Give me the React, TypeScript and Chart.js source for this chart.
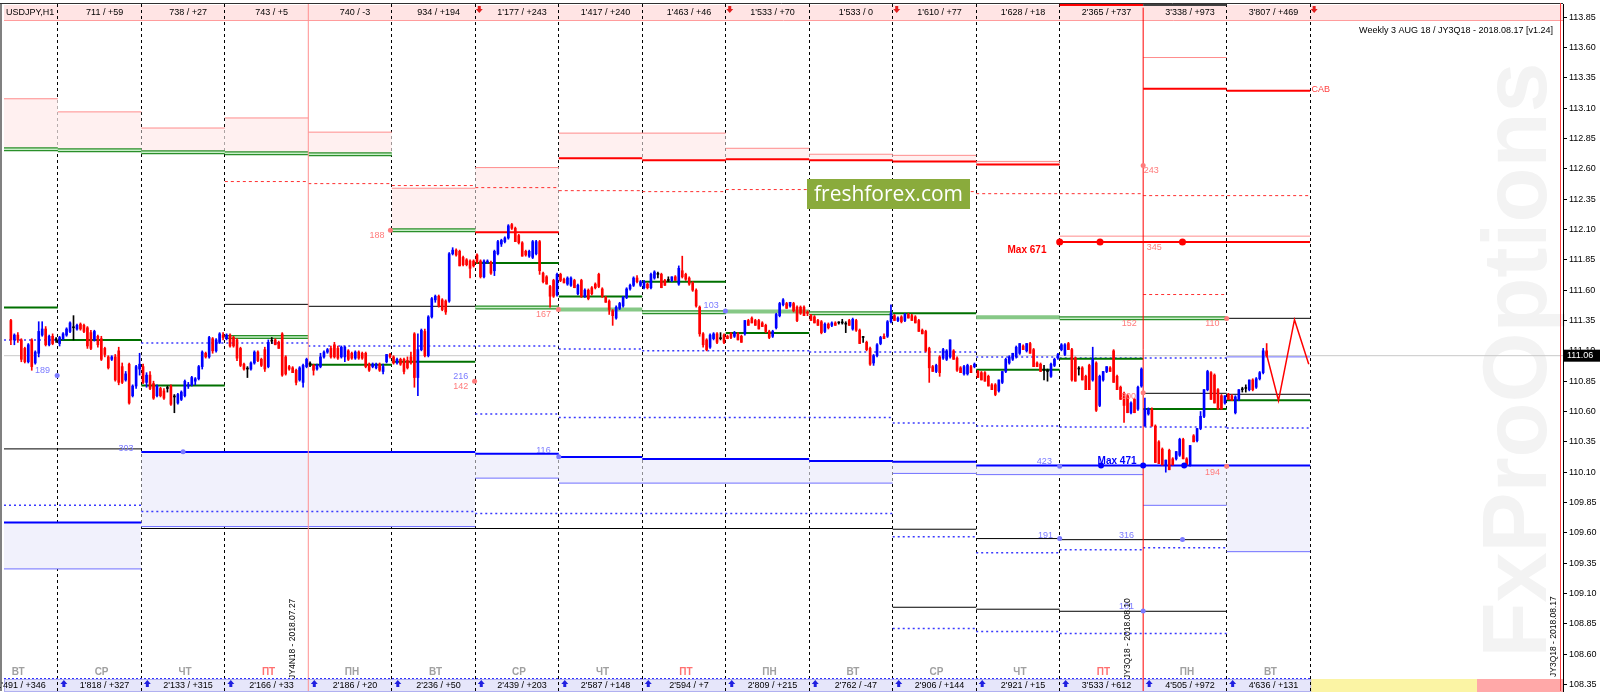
import React, { useEffect, useRef } from "react";
import { Chart, registerables } from "chart.js";

Chart.register(...registerables);

// ---------- axes ----------
const X_MIN = -15.48;
const X_MAX = 432.69;
const Y_MIN = 108.297;
const Y_MAX = 113.958;
const yTicks = [108.35, 108.6, 108.85, 109.1, 109.35, 109.6, 109.85, 110.1, 110.35, 110.6, 110.85, 111.1, 111.35, 111.6, 111.85, 112.1, 112.35, 112.6, 112.85, 113.1, 113.35, 113.6, 113.85];
const dayTicks = [0, 24, 48, 72, 96, 120, 144, 168, 192, 216, 240, 264, 288, 312, 336, 360];
const expiryLight = 72;
const expiryMain = 312;
const currentPrice = 111.06;

// ---------- strip texts (columns -1 .. 14) ----------
const dayNames = ["ВТ", "СР", "ЧТ", "ПТ", "ПН", "ВТ", "СР", "ЧТ", "ПТ", "ПН", "ВТ", "СР", "ЧТ", "ПТ", "ПН", "ВТ"];
const topStats = ["", "711 / +59", "738 / +27", "743 / +5", "740 / -3", "934 / +194", "1'177 / +243", "1'417 / +240", "1'463 / +46", "1'533 / +70", "1'533 / 0", "1'610 / +77", "1'628 / +18", "2'365 / +737", "3'338 / +973", "3'807 / +469"];
const bottomStats = ["1'491 / +346", "1'818 / +327", "2'133 / +315", "2'166 / +33", "2'186 / +20", "2'236 / +50", "2'439 / +203", "2'587 / +148", "2'594 / +7", "2'809 / +215", "2'762 / -47", "2'906 / +144", "2'921 / +15", "3'533 / +612", "4'505 / +972", "4'636 / +131"];
const redArrowCols = [5, 8, 10, 15];

// ---------- hourly candles [open, high, low, close] ----------
const dayM1 = [
  [111.35, 111.36, 111.15, 111.19], [111.19, 111.24, 111.15, 111.23], [111.23, 111.25, 111.17, 111.19], [111.19, 111.2, 111.01, 111.03],
  [111.12, 111.13, 111.0, 111.01], [111.01, 111.16, 111.0, 111.15], [111.19, 111.2, 110.94, 110.97], [111.0, 111.1, 110.99, 111.09],
  [111.08, 111.34, 111.05, 111.26], [111.23, 111.34, 111.22, 111.28], [111.28, 111.3, 111.14, 111.15], [111.15, 111.23, 111.14, 111.22],
  [111.22, 111.24, 111.15, 111.16], [111.19, 111.21, 111.17, 111.19],
];
const day00 = [
  [111.16, 111.22, 111.14, 111.21], [111.2, 111.25, 111.19, 111.24], [111.23, 111.29, 111.22, 111.28], [111.26, 111.34, 111.25, 111.33],
  [111.29, 111.39, 111.19, 111.29], [111.28, 111.32, 111.27, 111.31], [111.32, 111.33, 111.27, 111.28], [111.31, 111.32, 111.25, 111.26],
  [111.29, 111.3, 111.12, 111.14], [111.25, 111.27, 111.11, 111.12], [111.19, 111.27, 111.18, 111.26], [111.22, 111.23, 111.13, 111.15],
  [111.2, 111.22, 111.02, 111.03], [111.12, 111.13, 111.05, 111.07], [111.05, 111.06, 110.95, 110.96], [111.03, 111.06, 111.02, 111.05],
  [111.05, 111.07, 110.85, 110.86], [111.1, 111.13, 110.82, 110.84], [110.97, 111.0, 110.83, 110.84], [110.86, 110.93, 110.85, 110.91],
  [110.99, 111.0, 110.66, 110.67], [110.73, 110.82, 110.72, 110.81], [110.81, 110.98, 110.79, 110.97], [110.95, 111.08, 110.9, 110.99],
];
const day01 = [
  [110.97, 110.99, 110.83, 110.84], [110.84, 110.92, 110.8, 110.9], [110.9, 110.93, 110.78, 110.79], [110.83, 110.85, 110.7, 110.71],
  [110.73, 110.82, 110.72, 110.81], [110.79, 110.8, 110.72, 110.73], [110.77, 110.79, 110.7, 110.71], [110.79, 110.81, 110.76, 110.79],
  [110.81, 110.82, 110.65, 110.66], [110.72, 110.74, 110.59, 110.72], [110.67, 110.75, 110.66, 110.74], [110.7, 110.77, 110.69, 110.76],
  [110.73, 110.86, 110.72, 110.85], [110.81, 110.84, 110.79, 110.82], [110.82, 110.89, 110.81, 110.88], [110.85, 110.88, 110.82, 110.87],
  [110.87, 110.98, 110.86, 110.97], [110.97, 111.1, 110.95, 111.09], [111.08, 111.09, 111.04, 111.05], [111.05, 111.22, 111.04, 111.21],
  [111.2, 111.21, 111.08, 111.1], [111.1, 111.2, 111.09, 111.19], [111.17, 111.25, 111.16, 111.24], [111.23, 111.25, 111.19, 111.21],
];
const day02 = [
  [111.2, 111.24, 111.19, 111.23], [111.23, 111.24, 111.13, 111.14], [111.21, 111.22, 111.13, 111.14], [111.19, 111.2, 111.02, 111.04],
  [111.12, 111.13, 110.97, 110.98], [110.99, 111.0, 110.94, 110.95], [110.95, 110.97, 110.88, 110.95], [110.95, 111.01, 110.94, 111.0],
  [111.0, 111.1, 110.99, 111.09], [111.09, 111.1, 111.01, 111.02], [111.03, 111.04, 110.97, 110.98], [111.11, 111.13, 110.93, 110.95],
  [110.97, 111.19, 110.96, 111.17], [111.18, 111.21, 111.16, 111.18], [111.19, 111.2, 111.15, 111.15], [111.17, 111.18, 111.12, 111.12],
  [111.24, 111.25, 110.89, 110.9], [111.05, 111.06, 110.9, 110.91], [110.97, 110.98, 110.94, 110.95], [110.96, 110.97, 110.92, 110.92],
  [110.94, 110.95, 110.82, 110.84], [110.86, 110.97, 110.85, 110.96], [110.84, 110.99, 110.8, 110.98], [110.97, 111.04, 110.96, 111.03],
];
const day03 = [
  [110.99, 111.01, 110.97, 110.99], [110.98, 110.99, 110.9, 110.94], [110.95, 110.99, 110.94, 110.98], [110.97, 111.08, 110.96, 111.05],
  [111.05, 111.1, 111.04, 111.09], [111.09, 111.12, 111.08, 111.11], [111.12, 111.14, 111.04, 111.05], [111.15, 111.17, 111.04, 111.05],
  [111.12, 111.14, 111.03, 111.04], [111.05, 111.14, 111.04, 111.13], [111.05, 111.14, 111.01, 111.13], [111.1, 111.11, 111.02, 111.03],
  [111.08, 111.09, 111.03, 111.04], [111.04, 111.1, 111.03, 111.09], [111.09, 111.1, 111.03, 111.04], [111.08, 111.09, 111.03, 111.04],
  [111.08, 111.09, 110.96, 110.97], [110.99, 111.0, 110.93, 110.94], [110.97, 111.0, 110.96, 110.99], [110.96, 111.0, 110.95, 110.99],
  [110.99, 111.0, 110.93, 110.94], [110.93, 110.99, 110.91, 110.97], [111.01, 111.07, 111.0, 111.07], [111.07, 111.08, 111.04, 111.05],
];
const day04 = [
  [111.05, 111.06, 110.99, 111.0], [111.0, 111.04, 110.99, 111.03], [111.03, 111.04, 110.98, 110.99], [111.03, 111.04, 110.91, 110.93],
  [111.02, 111.05, 110.95, 110.96], [111.05, 111.09, 110.99, 111.0], [111.24, 111.25, 110.8, 110.88], [110.88, 111.24, 110.73, 111.11],
  [111.11, 111.28, 111.1, 111.27], [111.26, 111.28, 111.05, 111.06], [111.06, 111.39, 111.05, 111.38], [111.38, 111.54, 111.37, 111.53],
  [111.52, 111.56, 111.5, 111.55], [111.55, 111.56, 111.46, 111.47], [111.52, 111.53, 111.43, 111.44], [111.51, 111.52, 111.4, 111.42],
  [111.51, 111.91, 111.5, 111.9], [111.9, 111.95, 111.89, 111.93], [111.93, 111.94, 111.88, 111.89], [111.92, 111.93, 111.8, 111.8],
  [111.87, 111.88, 111.8, 111.81], [111.85, 111.86, 111.8, 111.81], [111.84, 111.85, 111.7, 111.78], [111.84, 111.85, 111.79, 111.8],
];
const day05 = [
  [111.89, 111.9, 111.82, 111.83], [111.84, 111.85, 111.7, 111.71], [111.71, 111.85, 111.7, 111.84], [111.83, 111.85, 111.82, 111.84],
  [111.83, 111.84, 111.73, 111.74], [111.76, 111.93, 111.72, 111.92], [111.9, 112.01, 111.89, 112.0], [111.98, 112.02, 111.96, 112.01],
  [112.0, 112.04, 111.99, 112.03], [112.03, 112.14, 112.02, 112.13], [112.14, 112.15, 112.1, 112.11], [112.11, 112.12, 112.0, 112.0],
  [112.05, 112.06, 111.98, 111.99], [111.99, 112.0, 111.88, 111.88], [111.92, 111.93, 111.88, 111.89], [111.88, 111.93, 111.87, 111.92],
  [111.87, 112.01, 111.86, 112.0], [111.9, 112.01, 111.89, 112.0], [112.0, 112.01, 111.73, 111.76], [111.74, 111.75, 111.66, 111.67],
  [111.71, 111.72, 111.65, 111.65], [111.63, 111.64, 111.46, 111.55], [111.68, 111.69, 111.54, 111.55], [111.56, 111.74, 111.55, 111.73],
];
const day06 = [
  [111.73, 111.74, 111.67, 111.68], [111.69, 111.7, 111.66, 111.66], [111.65, 111.71, 111.64, 111.7], [111.64, 111.71, 111.63, 111.7],
  [111.68, 111.69, 111.62, 111.62], [111.57, 111.65, 111.56, 111.64], [111.68, 111.69, 111.54, 111.55], [111.55, 111.61, 111.54, 111.6],
  [111.6, 111.61, 111.52, 111.53], [111.62, 111.63, 111.56, 111.57], [111.65, 111.66, 111.61, 111.62], [111.73, 111.74, 111.62, 111.63],
  [111.61, 111.62, 111.54, 111.55], [111.54, 111.55, 111.5, 111.5], [111.51, 111.52, 111.4, 111.44], [111.43, 111.44, 111.31, 111.39],
  [111.37, 111.47, 111.36, 111.46], [111.45, 111.5, 111.44, 111.49], [111.47, 111.55, 111.46, 111.54], [111.54, 111.62, 111.53, 111.61],
  [111.61, 111.65, 111.6, 111.64], [111.64, 111.71, 111.63, 111.7], [111.7, 111.72, 111.66, 111.67], [111.64, 111.68, 111.63, 111.67],
];
const day07 = [
  [111.62, 111.68, 111.61, 111.67], [111.65, 111.66, 111.61, 111.62], [111.62, 111.74, 111.61, 111.73], [111.7, 111.76, 111.69, 111.75],
  [111.73, 111.75, 111.7, 111.73], [111.73, 111.74, 111.62, 111.62], [111.68, 111.69, 111.64, 111.64], [111.68, 111.71, 111.67, 111.68],
  [111.68, 111.71, 111.67, 111.71], [111.71, 111.72, 111.68, 111.68], [111.65, 111.8, 111.64, 111.78], [111.76, 111.88, 111.7, 111.71],
  [111.73, 111.74, 111.68, 111.69], [111.7, 111.71, 111.64, 111.65], [111.66, 111.67, 111.59, 111.6], [111.6, 111.61, 111.46, 111.47],
  [111.46, 111.47, 111.22, 111.24], [111.24, 111.25, 111.13, 111.15], [111.19, 111.2, 111.1, 111.11], [111.13, 111.24, 111.12, 111.23],
  [111.2, 111.25, 111.19, 111.24], [111.24, 111.25, 111.16, 111.17], [111.2, 111.25, 111.19, 111.2], [111.23, 111.24, 111.16, 111.17],
];
const day08 = [
  [111.22, 111.23, 111.2, 111.2], [111.24, 111.25, 111.2, 111.21], [111.22, 111.26, 111.21, 111.25], [111.24, 111.25, 111.19, 111.19],
  [111.22, 111.23, 111.17, 111.17], [111.24, 111.35, 111.23, 111.35], [111.35, 111.36, 111.31, 111.31], [111.37, 111.38, 111.33, 111.33],
  [111.35, 111.36, 111.31, 111.31], [111.35, 111.36, 111.28, 111.28], [111.33, 111.34, 111.3, 111.3], [111.31, 111.32, 111.25, 111.26],
  [111.26, 111.27, 111.2, 111.21], [111.22, 111.27, 111.21, 111.26], [111.29, 111.41, 111.28, 111.4], [111.39, 111.5, 111.38, 111.49],
  [111.48, 111.53, 111.47, 111.52], [111.49, 111.5, 111.45, 111.45], [111.47, 111.5, 111.46, 111.5], [111.49, 111.5, 111.42, 111.43],
  [111.46, 111.47, 111.34, 111.35], [111.46, 111.47, 111.4, 111.41], [111.46, 111.47, 111.39, 111.39], [111.42, 111.43, 111.39, 111.41],
];
const day09 = [
  [111.39, 111.4, 111.35, 111.35], [111.38, 111.39, 111.33, 111.33], [111.35, 111.36, 111.31, 111.31], [111.34, 111.35, 111.24, 111.25],
  [111.26, 111.33, 111.25, 111.32], [111.32, 111.33, 111.28, 111.29], [111.31, 111.34, 111.3, 111.33], [111.33, 111.34, 111.31, 111.31],
  [111.33, 111.34, 111.32, 111.33], [111.33, 111.36, 111.32, 111.33], [111.32, 111.34, 111.25, 111.32], [111.35, 111.36, 111.31, 111.31],
  [111.28, 111.37, 111.27, 111.36], [111.35, 111.36, 111.26, 111.27], [111.27, 111.28, 111.16, 111.16], [111.21, 111.22, 111.17, 111.21],
  [111.17, 111.18, 111.1, 111.11], [111.12, 111.13, 110.98, 110.99], [111.0, 111.07, 110.98, 111.06], [111.06, 111.16, 111.05, 111.15],
  [111.16, 111.22, 111.15, 111.21], [111.22, 111.24, 111.2, 111.2], [111.22, 111.35, 111.21, 111.34], [111.34, 111.48, 111.33, 111.41],
];
const day10 = [
  [111.39, 111.4, 111.35, 111.35], [111.35, 111.38, 111.34, 111.37], [111.38, 111.39, 111.33, 111.34], [111.35, 111.41, 111.34, 111.4],
  [111.4, 111.41, 111.37, 111.37], [111.39, 111.4, 111.35, 111.35], [111.38, 111.39, 111.33, 111.33], [111.35, 111.36, 111.26, 111.26],
  [111.27, 111.28, 111.24, 111.24], [111.26, 111.27, 111.09, 111.1], [111.12, 111.13, 110.84, 110.96], [110.97, 110.98, 110.93, 110.93],
  [110.93, 110.99, 110.92, 110.98], [111.05, 111.06, 110.89, 110.92], [111.04, 111.12, 111.03, 111.11], [111.03, 111.11, 111.02, 111.1],
  [111.05, 111.19, 111.04, 111.19], [111.1, 111.11, 111.03, 111.03], [111.04, 111.05, 110.93, 110.94], [110.96, 110.97, 110.92, 110.92],
  [110.91, 110.98, 110.9, 110.97], [110.91, 110.99, 110.9, 110.98], [110.97, 110.98, 110.92, 110.92], [110.97, 111.0, 110.96, 110.99],
];
const day11 = [
  [110.93, 110.94, 110.88, 110.88], [110.92, 110.93, 110.86, 110.86], [110.92, 110.93, 110.85, 110.85], [110.89, 110.9, 110.81, 110.81],
  [110.82, 110.83, 110.78, 110.78], [110.82, 110.83, 110.73, 110.74], [110.77, 110.86, 110.76, 110.86], [110.84, 110.93, 110.83, 110.93],
  [110.93, 111.04, 110.92, 111.03], [111.0, 111.06, 110.99, 111.05], [111.03, 111.08, 111.02, 111.08], [111.05, 111.14, 111.04, 111.13],
  [111.08, 111.16, 111.07, 111.16], [111.14, 111.15, 111.11, 111.11], [111.1, 111.16, 111.09, 111.16], [111.16, 111.17, 111.08, 111.08],
  [111.11, 111.12, 110.97, 110.97], [111.0, 111.01, 110.97, 110.97], [110.99, 111.0, 110.93, 110.93], [110.94, 110.98, 110.86, 110.94],
  [110.93, 110.95, 110.85, 110.93], [110.89, 111.0, 110.88, 110.99], [110.98, 111.04, 110.97, 111.03], [111.04, 111.08, 111.03, 111.07],
];
const day12 = [
  [111.11, 111.16, 111.1, 111.15], [111.07, 111.16, 111.06, 111.15], [111.16, 111.17, 111.11, 111.11], [111.11, 111.12, 110.85, 110.86],
  [111.04, 111.05, 110.85, 110.85], [110.95, 110.97, 110.9, 110.95], [110.96, 110.97, 110.86, 110.86], [110.89, 110.9, 110.78, 110.78],
  [110.98, 110.99, 110.78, 110.78], [110.86, 111.13, 110.85, 111.03], [111.0, 111.01, 110.6, 110.61], [110.65, 110.9, 110.64, 110.89],
  [110.86, 110.93, 110.85, 110.93], [110.93, 110.97, 110.92, 110.97], [110.96, 110.97, 110.93, 110.93], [111.1, 111.11, 110.84, 110.84],
  [110.89, 110.9, 110.78, 110.78], [110.8, 110.81, 110.7, 110.7], [110.75, 110.76, 110.51, 110.65], [110.73, 110.74, 110.59, 110.59],
  [110.59, 110.68, 110.58, 110.67], [110.7, 110.71, 110.59, 110.59], [110.62, 110.81, 110.61, 110.8], [110.81, 110.96, 110.8, 110.95],
];
const day13 = [
  [110.48, 110.71, 110.48, 110.62], [110.58, 110.63, 110.57, 110.62], [110.62, 110.63, 110.48, 110.48], [110.48, 110.49, 110.18, 110.18],
  [110.35, 110.36, 110.17, 110.17], [110.29, 110.3, 110.16, 110.16], [110.16, 110.2, 110.1, 110.2], [110.28, 110.29, 110.12, 110.12],
  [110.21, 110.22, 110.16, 110.16], [110.21, 110.27, 110.2, 110.27], [110.24, 110.38, 110.23, 110.37], [110.37, 110.38, 110.21, 110.21],
  [110.21, 110.22, 110.16, 110.16], [110.16, 110.32, 110.15, 110.32], [110.4, 110.41, 110.35, 110.35], [110.36, 110.46, 110.35, 110.46],
  [110.46, 110.6, 110.45, 110.56], [110.56, 110.78, 110.55, 110.78], [110.78, 110.94, 110.77, 110.93], [110.92, 110.93, 110.7, 110.7],
  [110.9, 110.91, 110.67, 110.67], [110.78, 110.79, 110.62, 110.62], [110.73, 110.74, 110.62, 110.62], [110.67, 110.73, 110.66, 110.73],
];
const day14 = [
  [110.74, 110.75, 110.7, 110.7], [110.73, 110.74, 110.69, 110.69], [110.59, 110.73, 110.58, 110.72], [110.7, 110.78, 110.69, 110.78],
  [110.78, 110.8, 110.76, 110.78], [110.79, 110.82, 110.76, 110.79], [110.78, 110.86, 110.77, 110.86], [110.86, 110.87, 110.77, 110.78],
  [110.8, 110.88, 110.79, 110.87], [110.87, 110.93, 110.86, 110.92], [110.92, 111.12, 110.91, 111.1], [111.1, 111.16, 111.05, 111.06],
];
const candleDays = [dayM1, day00, day01, day02, day03, day04, day05, day06, day07, day08, day09, day10, day11, day12, day13, day14];

// forecast zigzag [hour, price]
const forecastPath = [[347.3, 111.09], [350.9, 110.69], [355.5, 111.357], [359.6, 110.99]];

// ---------- levels [fromColumn, toColumn, price] ----------
const redThickLv = [[5, 5, 112.077], [6, 6, 112.686], [7, 7, 112.67], [8, 8, 112.678], [9, 9, 112.67], [10, 10, 112.661], [11, 11, 112.636], [12, 14, 111.997], [13, 13, 113.26], [14, 14, 113.243]];
const redThinLv = [[-1, -1, 113.177], [0, 0, 113.069], [1, 1, 112.936], [2, 2, 113.019], [3, 3, 112.902], [4, 4, 112.44], [5, 5, 112.61], [6, 6, 112.894], [7, 7, 112.894], [8, 8, 112.769], [9, 9, 112.72], [10, 10, 112.711], [11, 11, 112.661], [12, 14, 112.045], [13, 13, 113.517]];
const redDashLv = [[2, 2, 112.495], [3, 3, 112.478], [4, 4, 112.462], [5, 5, 112.445], [6, 6, 112.42], [7, 7, 112.412], [8, 8, 112.429], [9, 9, 112.42], [10, 10, 112.412], [11, 11, 112.395], [12, 12, 112.395], [13, 14, 112.379], [13, 13, 111.564]];
const greenDarkLv = [[-1, -1, 111.458], [0, 0, 111.189], [1, 1, 110.814], [3, 3, 110.985], [4, 4, 111.01], [5, 5, 111.824], [6, 6, 111.547], [7, 7, 111.67], [8, 8, 111.246], [10, 10, 111.409], [11, 11, 110.944], [12, 12, 111.034], [13, 13, 110.62], [14, 14, 110.693]];
const greenDoubleLv = [[-1, -1, 112.761], [0, 0, 112.753], [1, 1, 112.736], [2, 2, 112.728], [3, 3, 112.72], [2, 2, 111.213], [4, 4, 112.093], [5, 5, 111.458], [7, 7, 111.417], [9, 9, 111.409], [12, 13, 111.368]];
const greenSoftLv = [[6, 6, 111.441], [8, 8, 111.425], [11, 11, 111.376]];
const blackLv = [[2, 2, 111.483], [3, 4, 111.467], [13, 13, 110.75], [14, 14, 110.742], [14, 14, 111.368], [-1, 0, 110.292], [1, 9, 109.636], [10, 10, 109.63], [11, 11, 109.553], [12, 13, 109.544], [10, 10, 108.987], [11, 11, 108.971], [12, 13, 108.954]];
const blueThickLv = [[-1, 0, 109.686], [1, 4, 110.267], [5, 5, 110.251], [6, 6, 110.226], [7, 8, 110.209], [9, 9, 110.193], [10, 10, 110.187], [11, 14, 110.155]];
const blueThinLv = [[-1, 0, 109.303], [1, 4, 109.652], [5, 5, 110.051], [6, 9, 110.01], [10, 10, 110.09], [11, 12, 110.08], [13, 13, 109.827], [14, 14, 109.445], [14, 14, 111.05]];
const blueDashLv = [[-1, -1, 111.19], [1, 2, 111.165], [3, 5, 111.14], [6, 6, 111.116], [7, 8, 111.1], [9, 10, 111.091], [11, 11, 111.05], [12, 13, 111.042], [5, 5, 110.58], [6, 9, 110.55], [10, 10, 110.505], [11, 11, 110.48], [12, 13, 110.472], [14, 14, 110.464], [-1, 0, 109.827], [1, 4, 109.777], [5, 9, 109.76], [10, 10, 109.569], [11, 11, 109.436], [12, 12, 109.461], [13, 13, 109.478], [10, 10, 108.813], [11, 11, 108.788], [12, 13, 108.771]];
// zones [fromColumn, toColumn, top, bottom]
const pinkZones = [[-1, -1, 113.177, 112.761], [0, 0, 113.069, 112.753], [1, 1, 112.936, 112.736], [2, 2, 113.019, 112.728], [3, 3, 112.902, 112.72], [4, 4, 112.44, 112.093], [5, 5, 112.61, 112.077], [6, 6, 112.894, 112.686], [7, 7, 112.894, 112.67], [8, 8, 112.769, 112.678], [9, 9, 112.72, 112.67], [10, 10, 112.711, 112.661], [11, 11, 112.661, 112.636]];
const lavenderZones = [[-1, 0, 109.686, 109.303], [1, 4, 110.267, 109.652], [5, 5, 110.251, 110.051], [6, 6, 110.226, 110.01], [7, 8, 110.209, 110.01], [9, 9, 110.193, 110.01], [10, 10, 110.187, 110.09], [11, 12, 110.155, 110.08], [13, 13, 110.155, 109.827], [14, 14, 110.155, 109.445]];

// ---------- markers [hour, price] and labels [hour, price, text] ----------
const blueDots = [[-0.2, 110.896], [191.9, 111.428], [144, 110.228], [36, 110.268], [288, 110.149], [288, 109.553], [323.3, 109.545], [312, 108.957]];
const redDots = [[95.6, 112.093], [119.8, 110.85], [143.9, 111.44], [336, 110.149], [336, 111.366], [312, 110.755], [312, 112.628]];
const maxRedDots = [[288, 111.997], [299.6, 111.997], [323.3, 111.997]];
const maxBlueDots = [[299.9, 110.155], [312, 110.155], [323.8, 110.155]];
const blueLabels = [[-4.39, 110.936, "189"], [115.8, 110.89, "216"], [187.8, 111.474, "103"], [139.6, 110.277, "116"], [19.6, 110.293, "303"], [283.6, 110.185, "423"], [283.9, 109.578, "191"], [307.2, 109.578, "316"], [307.2, 108.996, "101"]];
const redLabels = [[115.8, 110.808, "142"], [91.75, 112.05, "188"], [139.6, 111.4, "167"], [331.9, 110.097, "194"], [308, 111.325, "152"], [331.9, 111.325, "110"], [307.8, 110.722, "300"], [314.3, 112.587, "243"], [315.2, 111.955, "345"]];
const boldLabels = [[278.6, 111.93, "Max 671", "#ff0000"], [304.5, 110.19, "Max 471", "#0000ff"]];
const sideLabels = [[360.4, 113.252, "CAB"]];
const expiryTexts = [[72, "JY4N18 - 2018.07.27"], [312, "JY3Q18 - 2018.08.10"]];

const colFrom = (c: number) => (c < 0 ? X_MIN : c * 24);
const colTo = (c: number) => (c + 1) * 24;

function segs(list: number[][], color: string, width: number, dash: number[], order: number) {
  return list.map(([a, b, p]) => ({
    type: "line" as const,
    data: [{ x: colFrom(a), y: p }, { x: colTo(b), y: p }],
    borderColor: color,
    borderWidth: width,
    borderDash: dash,
    pointRadius: 0,
    fill: false,
    order,
  }));
}
function zones(list: number[][], color: string) {
  return list.map(([a, b, t, btm]) => ({
    type: "line" as const,
    data: [{ x: colFrom(a), y: t }, { x: colTo(b), y: t }],
    borderWidth: 0,
    borderColor: "rgba(0,0,0,0)",
    backgroundColor: color,
    pointRadius: 0,
    fill: { value: btm },
    order: 100,
  }));
}
function dots(list: number[][], color: string, r: number) {
  return {
    type: "line" as const,
    data: list.map(([x, y]) => ({ x, y })),
    showLine: false,
    pointRadius: r,
    pointBackgroundColor: color,
    pointBorderWidth: 0,
    order: 0,
  };
}

const FONT = '"Liberation Sans", Arial, sans-serif';

const decoPlugin = {
  id: "deco",
  beforeDraw(chart: any) {
    const ctx = chart.ctx;
    const xs = chart.scales.x;
    const { left, right } = chart.chartArea;
    ctx.save();
    ctx.fillStyle = "#ffffff";
    ctx.fillRect(0, 0, chart.width, chart.height);
    // watermark
    ctx.save();
    ctx.font = `bold 100px ${FONT}`;
    const w = ctx.measureText("FxProOptions").width;
    const size = (100 * 595) / w;
    ctx.font = `bold ${size}px ${FONT}`;
    ctx.translate(1521, 360);
    ctx.rotate(-Math.PI / 2);
    ctx.fillStyle = "#f3f3f3";
    ctx.textAlign = "center";
    ctx.textBaseline = "middle";
    ctx.fillText("FxProOptions", 0, 0);
    ctx.restore();
    // top strip
    ctx.fillStyle = "#ffe4e4";
    ctx.fillRect(left, 5, right - left, 15);
    ctx.strokeStyle = "#ff9c9c";
    ctx.lineWidth = 1;
    ctx.beginPath();
    ctx.moveTo(left, 20.5);
    ctx.lineTo(right, 20.5);
    ctx.stroke();
    // bottom strip
    const x360 = xs.getPixelForValue(360);
    const xPink = 1477;
    ctx.fillStyle = "#e6e6fa";
    ctx.fillRect(left, 679, x360 - left, 13);
    ctx.fillStyle = "#fbf4a4";
    ctx.fillRect(x360, 679, xPink - x360, 13);
    ctx.fillStyle = "#ffa8a8";
    ctx.fillRect(xPink, 679, right - xPink, 13);
    ctx.strokeStyle = "#b0b0f0";
    ctx.strokeRect(left + 0.5, 679.5, x360 - left, 12);
    ctx.restore();
  },
  afterDatasetsDraw(chart: any) {
    const ctx = chart.ctx;
    const xs = chart.scales.x;
    const ys = chart.scales.y;
    const { left, right, bottom } = chart.chartArea;
    ctx.save();
    // frame
    ctx.strokeStyle = "#808080";
    ctx.lineWidth = 2;
    ctx.beginPath();
    ctx.moveTo(1, 3);
    ctx.lineTo(1, bottom);
    ctx.stroke();
    ctx.strokeStyle = "#303030";
    ctx.lineWidth = 1;
    ctx.beginPath();
    ctx.moveTo(0, 3.5);
    ctx.lineTo(right, 3.5);
    ctx.stroke();
    ctx.strokeStyle = "#ff4040";
    ctx.beginPath();
    ctx.moveTo(right - 2.5, 3);
    ctx.lineTo(right - 2.5, bottom);
    ctx.stroke();
    // expiry brackets on the top edge
    ctx.lineWidth = 2;
    ctx.strokeStyle = "#ff0000";
    ctx.beginPath();
    ctx.moveTo(xs.getPixelForValue(288), 5);
    ctx.lineTo(xs.getPixelForValue(312), 5);
    ctx.stroke();
    ctx.strokeStyle = "#404040";
    ctx.beginPath();
    ctx.moveTo(xs.getPixelForValue(312), 5);
    ctx.lineTo(xs.getPixelForValue(336), 5);
    ctx.stroke();
    ctx.lineWidth = 1;

    // blue dotted line above bottom strip
    const x360 = xs.getPixelForValue(360);
    ctx.strokeStyle = "#3030ff";
    ctx.setLineDash([2, 2]);
    ctx.beginPath();
    ctx.moveTo(left, 678.5);
    ctx.lineTo(x360, 678.5);
    ctx.stroke();
    ctx.setLineDash([]);

    // strip texts
    ctx.textBaseline = "middle";
    ctx.textAlign = "center";
    for (let i = 0; i < 16; i++) {
      const c = i - 1;
      const cx = (xs.getPixelForValue(c * 24) + xs.getPixelForValue(c * 24 + 24)) / 2 + 5;
      ctx.font = `9px ${FONT}`;
      ctx.fillStyle = "#000000";
      if (topStats[i]) ctx.fillText(topStats[i], cx, 12.5);
      ctx.fillText(bottomStats[i], cx, 686);
      ctx.font = `bold 10px ${FONT}`;
      ctx.fillStyle = dayNames[i] === "ПТ" ? "#ff7070" : "#a0a0a0";
      ctx.fillText(dayNames[i], cx - 3, 672.5);
      if (c >= 0) {
        const ax = xs.getPixelForValue(c * 24) + 6;
        ctx.fillStyle = "#2020e0";
        ctx.beginPath();
        ctx.moveTo(ax, 680);
        ctx.lineTo(ax - 3.5, 684);
        ctx.lineTo(ax - 1.5, 684);
        ctx.lineTo(ax - 1.5, 687);
        ctx.lineTo(ax + 1.5, 687);
        ctx.lineTo(ax + 1.5, 684);
        ctx.lineTo(ax + 3.5, 684);
        ctx.closePath();
        ctx.fill();
      }
    }
    ctx.textAlign = "left";
    ctx.font = `9px ${FONT}`;
    ctx.fillStyle = "#000";
    ctx.fillText("USDJPY,H1", 6, 12.5);
    // red arrows on top strip
    ctx.fillStyle = "#e02020";
    redArrowCols.forEach((c) => {
      const ax = xs.getPixelForValue(c * 24) + 4;
      ctx.beginPath();
      ctx.moveTo(ax, 13);
      ctx.lineTo(ax - 3.5, 9);
      ctx.lineTo(ax - 1.5, 9);
      ctx.lineTo(ax - 1.5, 6);
      ctx.lineTo(ax + 1.5, 6);
      ctx.lineTo(ax + 1.5, 9);
      ctx.lineTo(ax + 3.5, 9);
      ctx.closePath();
      ctx.fill();
    });

    // title
    ctx.textAlign = "right";
    ctx.fillStyle = "#000";
    ctx.font = `9px ${FONT}`;
    ctx.fillText("Weekly 3 AUG 18 / JY3Q18 - 2018.08.17 [v1.24]", 1553, 31);

    // freshforex badge
    ctx.fillStyle = "#8aab3c";
    ctx.fillRect(807, 179, 163, 30);
    ctx.fillStyle = "#ffffff";
    ctx.textAlign = "center";
    ctx.font = `21px "Open Sans", ${FONT}`;
    ctx.fillText("freshforex.com", 888.5, 195);

    // value labels
    ctx.font = `9px ${FONT}`;
    ctx.fillStyle = "#7b7bff";
    blueLabels.forEach(([h, p, t]: any) => ctx.fillText(t, xs.getPixelForValue(h), ys.getPixelForValue(p)));
    ctx.fillStyle = "#ff7b7b";
    redLabels.forEach(([h, p, t]: any) => ctx.fillText(t, xs.getPixelForValue(h), ys.getPixelForValue(p)));
    ctx.font = `bold 10px ${FONT}`;
    boldLabels.forEach(([h, p, t, col]: any) => {
      ctx.fillStyle = col;
      ctx.fillText(t, xs.getPixelForValue(h), ys.getPixelForValue(p));
    });
    ctx.textAlign = "left";
    ctx.font = `9px ${FONT}`;
    ctx.fillStyle = "#ff4040";
    sideLabels.forEach(([h, p, t]: any) => ctx.fillText(t, xs.getPixelForValue(h), ys.getPixelForValue(p)));

    // rotated expiry labels (reading bottom to top)
    ctx.fillStyle = "#000";
    ctx.font = `8.5px ${FONT}`;
    const rot = (x: number, y: number, t: string) => {
      ctx.save();
      ctx.translate(x, y);
      ctx.rotate(-Math.PI / 2);
      ctx.textAlign = "left";
      ctx.textBaseline = "bottom";
      ctx.fillText(t, 0, 0);
      ctx.restore();
    };
    expiryTexts.forEach(([h, t]: any) => rot(xs.getPixelForValue(h) - 11, 679, t));
    rot(right - 5, 677, "JY3Q18 - 2018.08.17");

    // current price box
    const py = ys.getPixelForValue(currentPrice);
    ctx.fillStyle = "#000";
    ctx.fillRect(right + 1, py - 6, 36, 12);
    ctx.fillStyle = "#fff";
    ctx.font = `9px ${FONT}`;
    ctx.textAlign = "left";
    ctx.textBaseline = "middle";
    ctx.fillText(currentPrice.toFixed(2), right + 4, py);
    ctx.restore();
  },
};

export default function App() {
  const ref = useRef<HTMLCanvasElement>(null);
  useEffect(() => {
    document.body.style.margin = "0";
    const candles: { h: number; o: number; hi: number; lo: number; c: number }[] = [];
    candleDays.forEach((d, idx) => {
      const col = idx - 1;
      d.forEach((b, i) => {
        const h = col < 0 ? i - d.length : col * 24 + i;
        candles.push({ h: h + 0.5, o: b[0], hi: b[1], lo: b[2], c: b[3] });
      });
    });
    const colors = candles.map((k) => (k.c > k.o ? "#0000ff" : k.c < k.o ? "#ff0000" : "#000000"));

    const datasets: any[] = [
      ...zones(pinkZones, "#fff0f0"),
      ...zones(lavenderZones, "#f1f1fc"),
      {
        type: "line",
        data: [{ x: X_MIN, y: currentPrice }, { x: X_MAX, y: currentPrice }],
        borderColor: "#c8c8c8",
        borderWidth: 1,
        pointRadius: 0,
        order: 90,
      },
      ...segs(redThinLv, "#ff8c8c", 1, [], 50),
      ...segs(redDashLv, "#ff3030", 1, [3, 3], 50),
      ...segs(redThickLv, "#ff0000", 2, [], 40),
      ...segs(greenSoftLv, "#86c886", 4, [], 50),
      ...segs(greenDoubleLv, "#2a8f2a", 4, [], 45),
      ...segs(greenDoubleLv, "#c9efc9", 1.5, [], 44),
      ...segs(greenDarkLv, "#007000", 2, [], 40),
      ...segs(blackLv, "#000000", 1, [], 50),
      ...segs(blueThinLv, "#7070ff", 1, [], 50),
      ...segs(blueDashLv, "#3a3aff", 1.5, [2, 3], 50),
      ...segs(blueThickLv, "#0000ff", 2, [], 40),
      {
        type: "line",
        data: [{ x: expiryLight, y: Y_MIN }, { x: expiryLight, y: Y_MAX }],
        borderColor: "#ff9090",
        borderWidth: 1,
        pointRadius: 0,
        order: 30,
      },
      {
        type: "line",
        data: [{ x: expiryMain, y: Y_MIN }, { x: expiryMain, y: Y_MAX - 0.03 }],
        borderColor: "#ff0000",
        borderWidth: 1,
        pointRadius: 0,
        order: 30,
      },
      {
        type: "bar",
        data: candles.map((k) => ({ x: k.h, y: [k.lo, k.hi] })),
        backgroundColor: colors,
        barThickness: 1,
        grouped: false,
        order: 6,
      },
      {
        type: "bar",
        data: candles.map((k) => ({ x: k.h, y: [k.o, k.c] })),
        backgroundColor: colors,
        barThickness: 2,
        minBarLength: 1,
        grouped: false,
        order: 5,
      },
      {
        type: "line",
        data: forecastPath.map(([x, y]) => ({ x, y })),
        borderColor: "#ff0000",
        borderWidth: 1.5,
        pointRadius: 0,
        order: 4,
      },
      dots(blueDots, "#7b7bff", 2.5),
      dots(redDots, "#ff7b7b", 2.5),
      dots(maxRedDots, "#ff0000", 3.5),
      dots(maxBlueDots, "#0000ff", 3),
    ];

    const chart = new Chart(ref.current!, {
      type: "bar",
      data: { datasets },
      plugins: [decoPlugin],
      options: {
        animation: false,
        responsive: false,
        devicePixelRatio: 1,
        layout: { padding: 0 },
        plugins: { legend: { display: false }, tooltip: { enabled: false } },
        scales: {
          x: {
            type: "linear",
            min: X_MIN,
            max: X_MAX,
            offset: false,
            afterBuildTicks: (s: any) => {
              s.ticks = dayTicks.map((v) => ({ value: v }));
            },
            afterFit: (s: any) => {
              s.height = 0;
            },
            ticks: { display: false },
            grid: {
              offset: false,
              drawTicks: false,
              lineWidth: 1,
              color: (ctx: any) => {
                const v = ctx.tick ? ctx.tick.value : null;
                return v === expiryLight || v === expiryMain ? "rgba(0,0,0,0)" : "#000000";
              },
              borderDash: [3, 3],
            } as any,
            border: { display: false, dash: [3, 3] },
          },
          y: {
            type: "linear",
            position: "right",
            min: Y_MIN,
            max: Y_MAX,
            afterBuildTicks: (s: any) => {
              s.ticks = yTicks.map((v) => ({ value: v }));
            },
            afterFit: (s: any) => {
              s.width = 37;
              s.paddingTop = 0;
              s.paddingBottom = 0;
            },
            ticks: {
              color: "#000000",
              font: { family: FONT, size: 9 },
              padding: 2,
              callback: (v: any) => Number(v).toFixed(2),
            },
            grid: { drawOnChartArea: false, drawTicks: true, tickLength: 4, color: "#000000" },
            border: { display: true, color: "#000000" },
          },
        },
      },
    } as any);
    return () => chart.destroy();
  }, []);
  return (
    <div style={{ width: 1600, height: 695 }}>
      <canvas ref={ref} width={1600} height={695} style={{ display: "block", width: 1600, height: 695 }} />
    </div>
  );
}
